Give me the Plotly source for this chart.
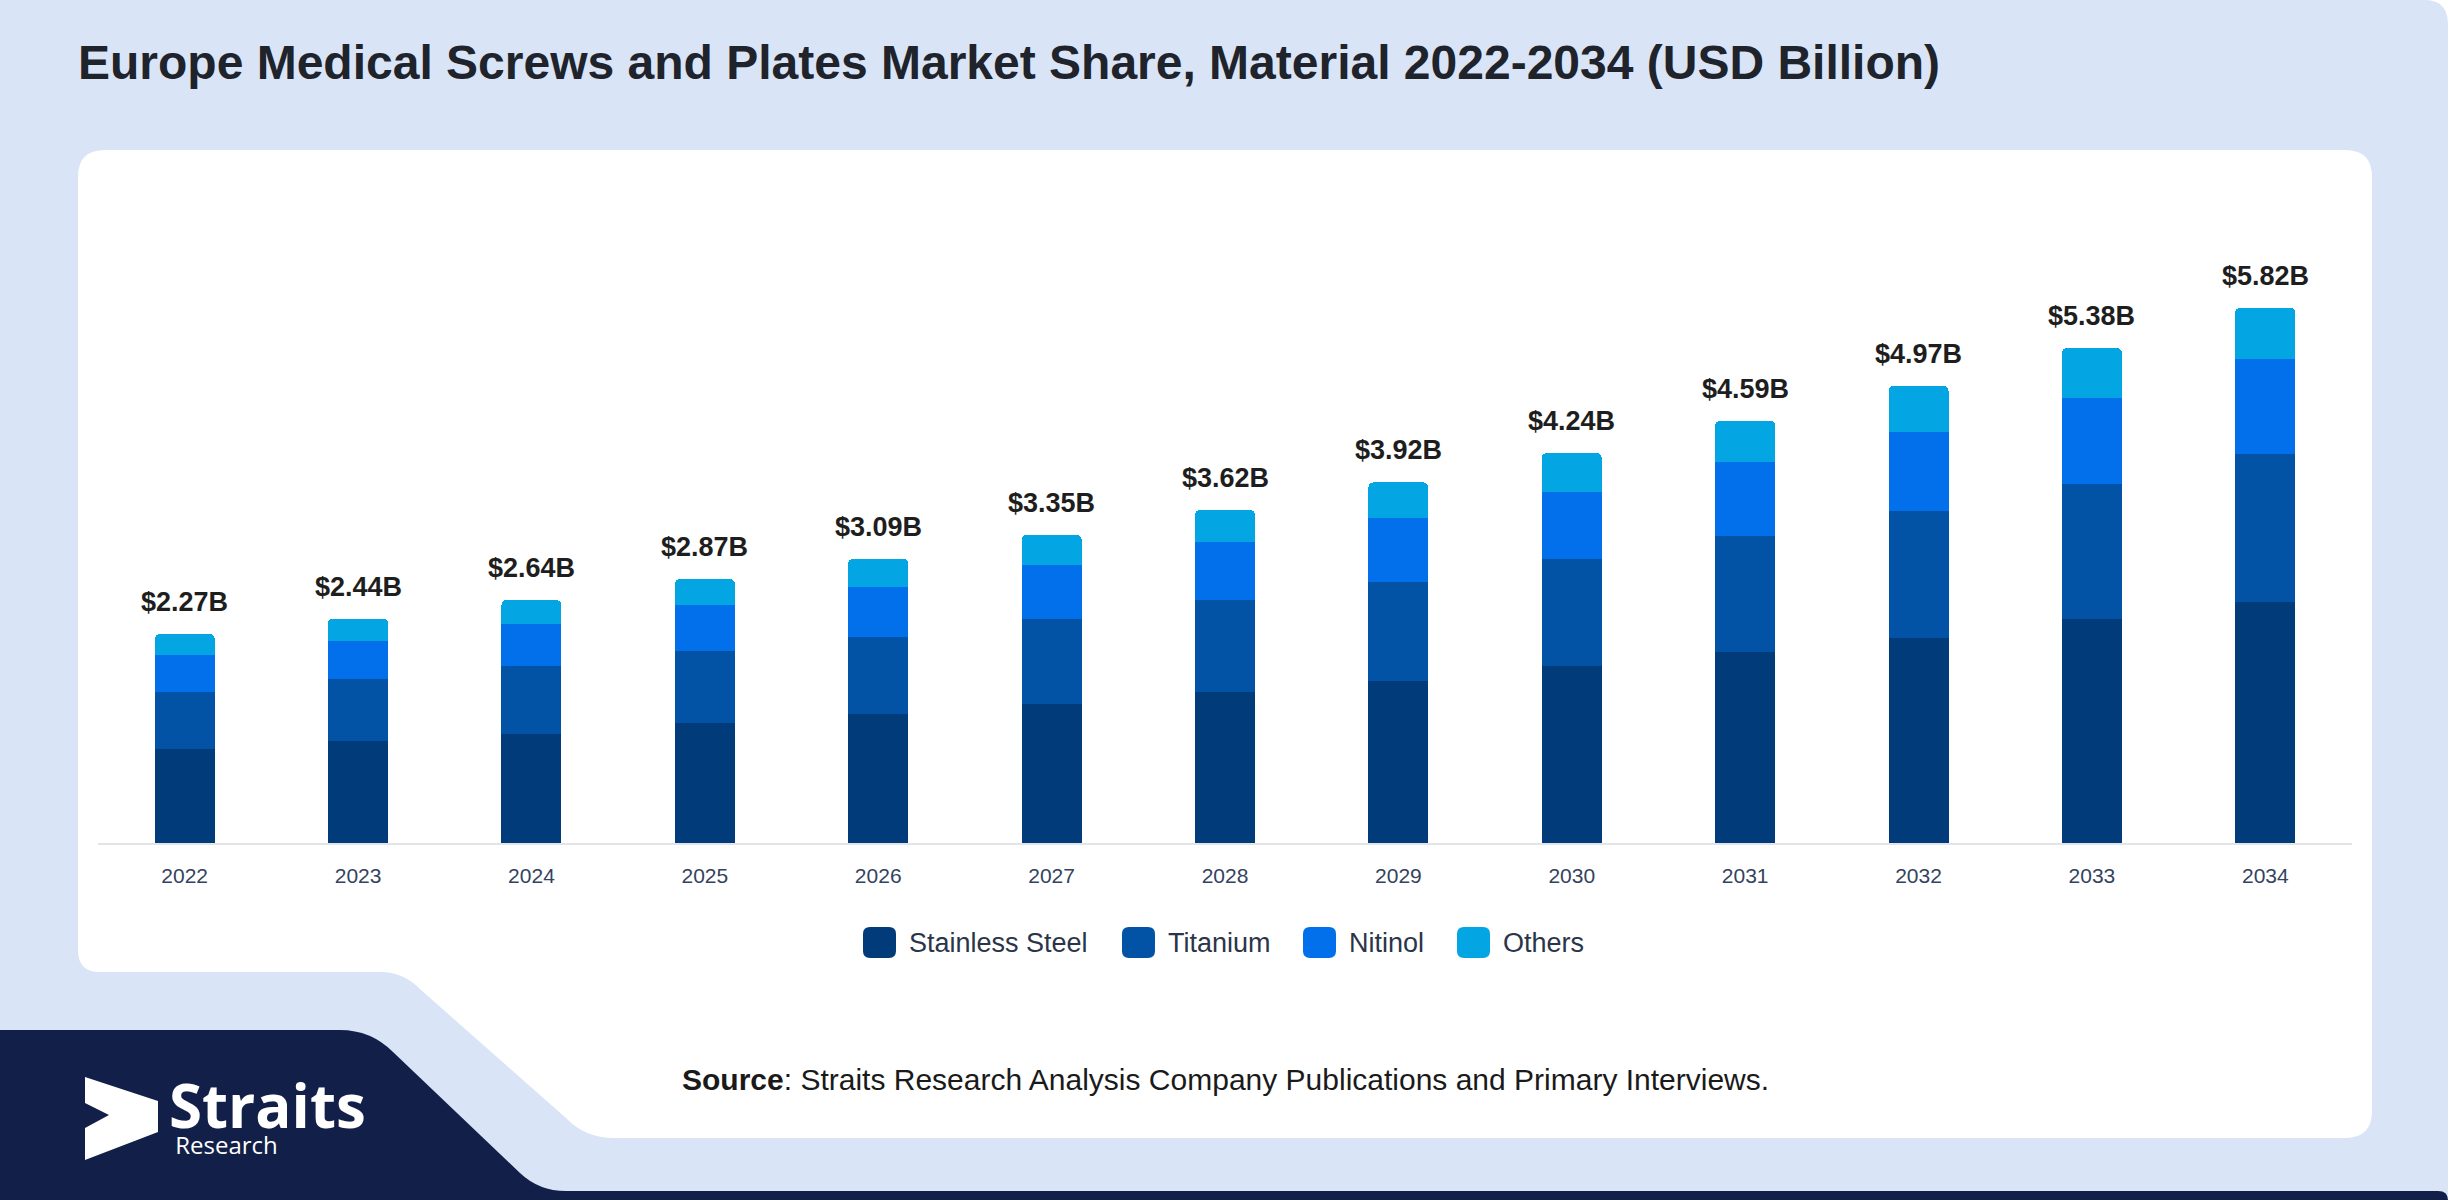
import plotly.graph_objects as go

years = ["2022", "2023", "2024", "2025", "2026", "2027", "2028",
         "2029", "2030", "2031", "2032", "2033", "2034"]
stainless = [1.02, 1.11, 1.18, 1.30, 1.40, 1.51, 1.64, 1.76, 1.92, 2.08, 2.23, 2.43, 2.62]
titanium = [0.62, 0.67, 0.74, 0.79, 0.84, 0.92, 1.00, 1.08, 1.17, 1.26, 1.38, 1.47, 1.61]
nitinol = [0.40, 0.42, 0.46, 0.50, 0.54, 0.59, 0.63, 0.69, 0.73, 0.80, 0.86, 0.94, 1.03]
others = [0.23, 0.24, 0.26, 0.28, 0.31, 0.33, 0.35, 0.39, 0.42, 0.45, 0.50, 0.54, 0.56]
totals = [2.27, 2.44, 2.64, 2.87, 3.09, 3.35, 3.62, 3.92, 4.24, 4.59, 4.97, 5.38, 5.82]

series_names = ["Stainless Steel", "Titanium", "Nitinol", "Others"]
series_colors = ["#023b7a", "#0252a6", "#0270eb", "#03a6e3"]

W, H = 2450, 1200
ML, MT, PW, PH = 98, 150, 2254, 693
FONT = "Liberation Sans, Arial, sans-serif"


# pixel -> paper coordinates (for the decoration shapes / text)
def fx(px):
    return (px - ML) / PW


def fy(py):
    return (MT + PH - py) / PH


def path(cmds):
    out = []
    for c in cmds:
        if c[0] == "Z":
            out.append("Z")
        else:
            pts = c[1:]
            xy = " ".join(f"{fx(pts[i]):.5f},{fy(pts[i + 1]):.5f}" for i in range(0, len(pts), 2))
            out.append(f"{c[0]}{xy}")
    return " ".join(out)


def rrect(x0, y0, x1, y1, r):
    return path([("M", x0 + r, y0), ("L", x1 - r, y0), ("Q", x1, y0, x1, y0 + r),
                 ("L", x1, y1 - r), ("Q", x1, y1, x1 - r, y1), ("L", x0 + r, y1),
                 ("Q", x0, y1, x0, y1 - r), ("L", x0, y0 + r), ("Q", x0, y0, x0 + r, y0), ("Z",)])


fig = go.Figure()
for name, vals, col in zip(series_names, [stainless, titanium, nitinol, others], series_colors):
    fig.add_trace(go.Bar(x=years, y=vals, name=name, marker_color=col,
                         marker_line_width=0,
                         hovertemplate="%{x}<br>" + name + ": $%{y:.2f}B<extra></extra>"))

# total labels above each stack (category index as x)
for i, t in enumerate(totals):
    fig.add_annotation(x=i, y=t, text=f"<b>${t:.2f}B</b>", showarrow=False,
                       yanchor="bottom", yshift=15,
                       font=dict(family=FONT, size=27, color="#1e1e1e"))

shapes = []
# light blue page
shapes.append(dict(type="path", path=path([("M", 0, 0), ("L", 2424, 0), ("Q", 2448, 0, 2448, 24),
                                           ("L", 2448, 1195), ("L", 0, 1195), ("Z",)]),
                   fillcolor="#d9e5f7", line_width=0))
# navy footer with the slanted edge
shapes.append(dict(type="path", path=path([("M", 0, 1030), ("L", 340, 1030), ("Q", 371, 1030, 393, 1052),
                                           ("L", 520, 1173), ("Q", 539, 1191, 566, 1191),
                                           ("L", 2438, 1191), ("Q", 2448, 1191, 2448, 1200),
                                           ("L", 0, 1200), ("Z",)]),
                   fillcolor="#121f48", line_width=0))
# white card
shapes.append(dict(type="path", path=path([("M", 78, 177), ("Q", 78, 150, 105, 150), ("L", 2345, 150),
                                           ("Q", 2372, 150, 2372, 177), ("L", 2372, 1111),
                                           ("Q", 2372, 1138, 2345, 1138), ("L", 614, 1138),
                                           ("Q", 585, 1138, 566, 1118), ("L", 421, 990),
                                           ("Q", 404, 972, 380, 972), ("L", 100, 972),
                                           ("Q", 78, 972, 78, 950), ("Z",)]),
                   fillcolor="#ffffff", line_width=0))
# logo arrow
shapes.append(dict(type="path", path=path([("M", 85, 1077), ("L", 158, 1101), ("L", 158, 1132),
                                           ("L", 85, 1160), ("L", 85, 1128), ("L", 109, 1115),
                                           ("L", 85, 1103), ("Z",)]),
                   fillcolor="#ffffff", line_width=0))
for s in shapes:
    s.update(xref="paper", yref="paper", layer="below")

# legend swatches + labels
legend_x = [863, 1122, 1303, 1457]
for name, col, lx in zip(series_names, series_colors, legend_x):
    shapes.append(dict(type="path", path=rrect(lx, 927, lx + 33, 958, 7), xref="paper", yref="paper",
                       fillcolor=col, line_width=0, layer="above"))
    fig.add_annotation(x=fx(lx + 44), y=fy(943), xref="paper", yref="paper", text=name,
                       showarrow=False, xanchor="left", yanchor="middle",
                       font=dict(family=FONT, size=27, color="#2b3549"))

fig.add_annotation(x=fx(76), y=fy(62), xref="paper", yref="paper",
                   text="<b>Europe Medical Screws and Plates Market Share, Material 2022-2034 (USD Billion)</b>",
                   showarrow=False, xanchor="left", yanchor="middle",
                   font=dict(family=FONT, size=48, color="#1f232b"))
fig.add_annotation(x=fx(680), y=fy(1079), xref="paper", yref="paper",
                   text="<b>Source</b>: Straits Research Analysis Company Publications and Primary Interviews.",
                   showarrow=False, xanchor="left", yanchor="middle",
                   font=dict(family=FONT, size=30, color="#1a1a1a"))
# logo wordmark: one text block, two lines
fig.add_annotation(x=fx(168), y=fy(1063), xref="paper", yref="paper",
                   text="<span style='font-size:60px'><b>Straits</b></span><br>"
                        "<span style='font-size:24px'> Research</span>",
                   showarrow=False, xanchor="left", yanchor="top", align="left", borderpad=0,
                   font=dict(family="Open Sans, sans-serif", size=20, color="#ffffff"))

fig.update_layout(
    width=W, height=H,
    margin=dict(l=ML, r=W - ML - PW, t=MT, b=H - MT - PH, pad=0),
    paper_bgcolor="#ffffff",
    plot_bgcolor="rgba(0,0,0,0)",
    barmode="stack",
    bargap=0.654,
    barcornerradius=5,
    showlegend=False,
    shapes=shapes,
    font=dict(family=FONT),
)
fig.update_xaxes(type="category", range=[-0.5, len(years) - 0.5], showline=True,
                 linecolor="#e2e4e8", linewidth=2,
                 showgrid=False, zeroline=False, ticks="", ticklabelstandoff=13,
                 tickfont=dict(family=FONT, size=21, color="#34435e"))
fig.update_yaxes(visible=False, range=[0, PH / 92.0], showgrid=False, zeroline=False)

fig.write_html("out.html", config={"displayModeBar": False},
               post_script="document.body.style.margin='0';")
